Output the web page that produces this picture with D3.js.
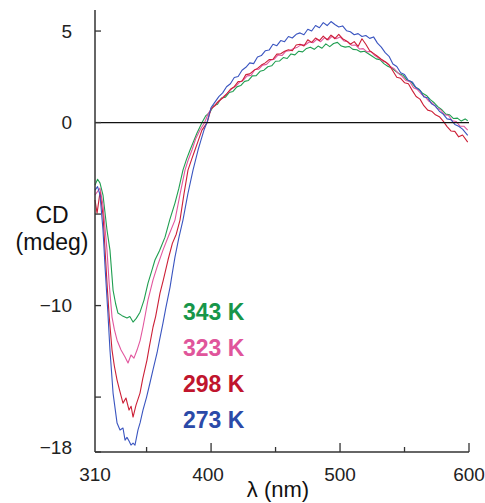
<!DOCTYPE html>
<html>
<head>
<meta charset="utf-8">
<script src="https://cdn.jsdelivr.net/npm/d3@7"></script>
<style>
  body { margin: 0; background: #fff; }
  svg { display: block; font-family: "Liberation Sans", Arial, sans-serif; }
</style>
</head>
<body>
<svg id="chart" width="485" height="503"></svg>
<script>
// [wavelength (nm), CD (mdeg)]
const s343 = [[310,-3.42],[312,-3.1],[313.9,-3.31],[316.2,-3.96],[319.3,-5.87],[321.6,-6.97],[324,-9.15],[326,-9.9],[327.8,-10.41],[331,-10.55],[334.8,-10.68],[337,-10.6],[339.5,-10.9],[342,-10.7],[344.9,-10.36],[348,-9.7],[351.1,-8.77],[354,-8.1],[356.5,-7.51],[360,-7.0],[364.3,-6.26],[368,-5.3],[372,-4.4],[375,-3.6],[378.2,-2.6],[381,-2.0],[383.7,-1.5],[386,-1.1],[389.1,-0.57],
  [393,0],[396,0.38],[399,0.55],[402,0.92],[405,1.0],[408,1.34],[411,1.38],[414,1.64],[417,1.7],[420,1.95],[423,2.02],[426,2.25],[429,2.3],[432,2.55],[435,2.56],[438,2.8],[441,2.86],[444,3.05],[447,3.1],[450,3.35],[453,3.36],[456,3.55],[459,3.5],[462,3.75],[465,3.7],[468,3.9],[471,3.86],[474,4.05],[477,4.12],[480,4.0],[483,4.18],[486,4.06],[489,4.3],[492,4.15],[495,4.32],[498,4.38],[501,4.18],[504,4.12],[507,4.16],[510,4.0],[513,3.98],[516,3.86],[519,3.9],[522,3.76],[525,3.62],[528,3.48],[531,3.44],[534,3.22],[537,3.08],[540,2.98],[543,2.82],[546,2.66],[549,2.58],[552,2.32],[555,2.24],[558,1.96],[561,1.84],[564,1.6],[567,1.48],[570,1.25],[573,1.08],[576,0.86],[579,0.7],[582,0.46],[585,0.42],[588,0.22],[591,0.24],[594,0.08],[597,0.2],[599,0.1]];

const s323 = [[310,-3.96],[313.9,-3.58],[316.2,-4.51],[319.3,-6.97],[321,-8.8],[323.2,-10.63],[325,-11.3],[327.1,-11.89],[330.2,-12.43],[333.3,-12.81],[335.6,-13.14],[337.9,-12.7],[340.2,-12.87],[342.6,-12.43],[345,-11.9],[347.2,-11.17],[349,-10.5],[351.1,-9.69],[355,-8.6],[358.1,-7.9],[362.7,-6.97],[367,-6.2],[372,-5.33],[376,-3.9],[379.8,-2.6],[382,-2.1],[385.2,-1.5],[388,-0.9],[391.4,-0.41],
  [395,0],[398,0.52],[401,0.82],[404,1.04],[407,1.22],[410,1.44],[413,1.62],[416,1.84],[419,1.98],[422,2.2],[425,2.32],[428,2.55],[431,2.58],[434,2.9],[437,2.92],[440,3.14],[443,3.18],[446,3.4],[449,3.46],[452,3.7],[455,3.66],[458,3.9],[461,3.92],[464,4.05],[467,4.12],[470,4.26],[473,4.24],[476,4.4],[479,4.36],[482,4.55],[485,4.42],[488,4.64],[491,4.52],[494,4.72],[497,4.58],[500,4.68],[503,4.46],[506,4.42],[509,4.22],[512,4.24],[515,4.02],[518,4.04],[521,3.86],[524,3.88],[527,3.66],[530,3.52],[533,3.36],[536,3.28],[539,3.06],[542,2.94],[545,2.7],[548,2.54],[551,2.3],[554,2.24],[557,1.9],[560,1.8],[563,1.56],[566,1.4],[569,1.16],[572,1.04],[575,0.8],[578,0.7],[581,0.42],[584,0.4],[587,0.1],[590,0.06],[593,-0.2],[596,-0.2],[599,-0.41]];

const s298 = [[310,-4.23],[311.6,-4.95],[313.9,-3.8],[316.2,-5.05],[319.3,-8.77],[321,-10.6],[323.2,-12.43],[325,-13.3],[327.1,-14.07],[329,-14.6],[331.7,-15.33],[334,-15.05],[336.4,-15.71],[338,-15.5],[339.5,-16.09],[341.8,-15.44],[344.9,-14.78],[347,-14.0],[350.3,-12.98],[352,-12.3],[355,-11.17],[357,-10.6],[360.4,-9.32],[363,-8.6],[366.6,-7.51],[370,-6.6],[373,-6.1],[375.9,-5.33],[379,-3.9],[382.1,-2.6],[385,-2.0],[387.5,-1.5],[390,-1.0],[392.9,-0.41],
  [397,0],[400,0.76],[403,0.92],[406,1.18],[409,1.34],[412,1.56],[415,1.82],[418,1.96],[421,2.24],[424,2.26],[427,2.62],[430,2.66],[433,2.84],[436,2.96],[439,3.14],[442,3.26],[445,3.44],[448,3.46],[451,3.74],[454,3.76],[457,3.9],[460,3.98],[463,3.92],[466,4.24],[469,4.28],[472,4.18],[475,4.52],[478,4.38],[481,4.62],[484,4.48],[487,4.72],[490,4.52],[493,4.78],[496,4.58],[499,4.82],[502,4.58],[505,4.46],[508,4.28],[511,4.42],[514,4.16],[517,4.58],[520,4.28],[523,3.92],[526,3.78],[529,3.62],[532,3.46],[535,3.32],[538,3.16],[541,2.82],[544,2.48],[547,2.42],[550,2.18],[553,2.12],[556,1.76],[559,1.42],[562,1.28],[565,0.92],[568,0.68],[571,0.62],[574,0.42],[577,0.32],[580,0.08],[583,-0.22],[586,-0.46],[589,-0.48],[592,-0.78],[595,-0.68],[599,-1.07]];

const s273 = [[310,-3.69],[312,-3.5],[313.9,-3.96],[316.2,-5.87],[317.8,-7.9],[320,-10.4],[321.6,-12.43],[324,-14.78],[327.1,-16.42],[329.4,-16.8],[331.7,-16.69],[333.3,-17.35],[334.8,-17.2],[336.4,-17.4],[337.9,-17.62],[339.5,-17.51],[341,-17.62],[343.3,-16.8],[345,-16.4],[347.2,-15.71],[350,-15.0],[352.6,-14.23],[355,-13.5],[358.1,-12.59],[360,-11.9],[362.7,-10.96],[365,-10.1],[368.2,-8.99],[370,-8.2],[372,-7.35],[375,-6.3],[378.2,-5.33],[382,-3.9],[386,-2.6],[389.9,-1.5],[392,-1.0],[394.5,-0.41],
  [396.8,0],[400,0.82],[403,1.12],[406,1.42],[409,1.62],[412,1.96],[415,2.12],[418,2.46],[421,2.52],[424,2.86],[427,3.02],[430,3.26],[433,3.22],[436,3.58],[439,3.66],[442,3.92],[445,3.96],[448,4.28],[451,4.2],[454,4.48],[457,4.42],[460,4.7],[463,4.62],[466,4.82],[469,4.9],[472,4.8],[475,5.1],[478,5.0],[481,5.3],[484,5.18],[487,5.46],[490,5.3],[493,5.52],[496,5.36],[499,5.22],[502,5.28],[505,5.02],[508,4.96],[511,4.8],[514,4.86],[517,4.7],[520,4.76],[523,4.6],[526,4.68],[529,4.34],[532,4.12],[535,3.82],[538,3.62],[541,3.2],[544,3.06],[547,2.72],[550,2.62],[553,2.3],[556,2.22],[559,1.9],[562,1.76],[565,1.4],[568,1.36],[571,1.02],[574,0.9],[577,0.62],[580,0.46],[583,0.2],[586,0.16],[589,-0.1],[592,-0.2],[595,-0.36],[599,-0.7]];

const seriesNames = ["343 K", "323 K", "298 K", "273 K"];
const seriesData = [s343, s323, s298, s273];
const lineColors = ["#1f9e50", "#e2579e", "#cc1f36", "#3a55c0"];
const textColors = ["#17964a", "#e0559b", "#c0152d", "#2b4aa8"];
const xTicks = [310, 400, 500, 600];
const xMinor = [350, 450, 550];
const yTicks = [5, 0, -10, -18];
const yMinor = [-5, -15];

const svg = d3.select("#chart");
const x = d3.scaleLinear().domain([310, 600]).range([95, 469]);
const y = d3.scaleLinear().domain([-18, 6.15]).range([452, 10]);

const line = d3.line()
  .x(d => x(d[0]))
  .y(d => y(d[1]));

// curves, 343 K first so blue ends on top
seriesData.forEach((s, i) => {
  svg.append("path")
    .datum(s)
    .attr("fill", "none")
    .attr("stroke", lineColors[i])
    .attr("stroke-width", 1.1)
    .attr("stroke-linejoin", "round")
    .attr("d", line);
});

// zero line
svg.append("line")
  .attr("x1", x(310)).attr("x2", x(600))
  .attr("y1", y(0)).attr("y2", y(0))
  .attr("stroke", "#111").attr("stroke-width", 1.3);

// axes frame
const axisColor = "#333";
svg.append("line")
  .attr("x1", x(310)).attr("x2", x(310))
  .attr("y1", y(6.15)).attr("y2", y(-18))
  .attr("stroke", axisColor).attr("stroke-width", 1.5);
svg.append("line")
  .attr("x1", x(310)).attr("x2", x(600))
  .attr("y1", y(-18)).attr("y2", y(-18))
  .attr("stroke", axisColor).attr("stroke-width", 1.5);

// y ticks point inwards
svg.selectAll(".ytick")
  .data(yTicks.concat(yMinor))
  .enter().append("line")
  .attr("x1", x(310)).attr("x2", x(310) + 6)
  .attr("y1", d => y(d)).attr("y2", d => y(d))
  .attr("stroke", axisColor).attr("stroke-width", 1.3);

svg.selectAll(".ylab")
  .data(yTicks)
  .enter().append("text")
  .attr("x", 72)
  .attr("y", d => d === -18 ? y(d) - 5 : y(d))
  .attr("dy", "0.35em")
  .attr("text-anchor", "end")
  .attr("font-size", 19)
  .attr("fill", "#222")
  .text(d => d < 0 ? "\u2212" + Math.abs(d) : d);

// x ticks
svg.selectAll(".xtick")
  .data(xTicks.slice(1).map(v => [v, 9]).concat(xMinor.map(v => [v, 5])))
  .enter().append("line")
  .attr("x1", d => x(d[0])).attr("x2", d => x(d[0]))
  .attr("y1", y(-18)).attr("y2", d => y(-18) - d[1])
  .attr("stroke", axisColor).attr("stroke-width", 1.3);

svg.selectAll(".xlab")
  .data(xTicks)
  .enter().append("text")
  .attr("x", d => x(d) - (d === 400 ? 3 : 0))
  .attr("y", 481)
  .attr("text-anchor", "middle")
  .attr("font-size", 19)
  .attr("fill", "#222")
  .text(d => d);

// axis titles
svg.append("text")
  .attr("x", 278).attr("y", 497)
  .attr("text-anchor", "middle")
  .attr("font-size", 22)
  .attr("fill", "#111")
  .text("\u03bb (nm)");

svg.append("text")
  .attr("x", 52).attr("y", 223)
  .attr("text-anchor", "middle")
  .attr("font-size", 23)
  .attr("fill", "#111")
  .text("CD");
svg.append("text")
  .attr("x", 52).attr("y", 250)
  .attr("text-anchor", "middle")
  .attr("font-size", 23)
  .attr("fill", "#111")
  .text("(mdeg)");

// legend labels
svg.selectAll(".leg")
  .data(seriesNames)
  .enter().append("text")
  .attr("x", 183)
  .attr("y", (d, i) => 320 + i * 36)
  .attr("font-size", 23)
  .attr("font-weight", "bold")
  .attr("fill", (d, i) => textColors[i])
  .text(d => d);
</script>
</body>
</html>
